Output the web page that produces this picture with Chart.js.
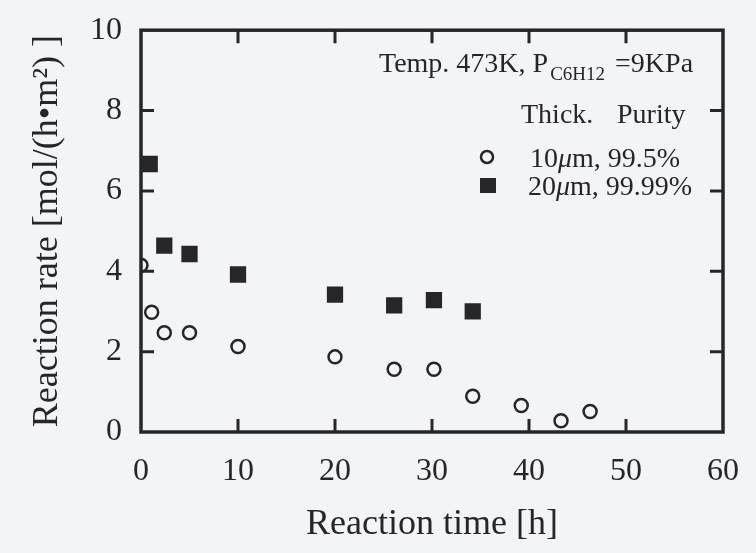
<!DOCTYPE html>
<html lang="en">
<head>
    <meta charset="UTF-8">
    <title>Reaction rate vs reaction time</title>
    <style>
        * { box-sizing: border-box; margin: 0; padding: 0; }
        html, body { width: 756px; height: 553px; background: #f3f4f6; overflow: hidden; }
        #wrap { position: relative; width: 756px; height: 553px; }
    </style>
</head>
<body>
    <div id="wrap">
        <canvas id="chartCanvasId" width="756" height="553"></canvas>
    </div>

    <script src="https://cdn.jsdelivr.net/npm/chart.js@4.4.1/dist/chart.umd.min.js"></script>
    <script>
        "use strict";

        // 10um, 99.5%  (open circles)
        const timeA   = [0, 1.1, 2.4, 5.0, 10.0, 20.0, 26.1, 30.2, 34.2, 39.2, 43.3, 46.3]
        const rateA   = [4.15, 2.98, 2.47, 2.47, 2.13, 1.87, 1.56, 1.56, 0.89, 0.66, 0.28, 0.51]
        // 20um, 99.99% (filled squares)
        const timeB   = [0.9, 2.4, 5.0, 10.0, 20.0, 26.1, 30.2, 34.2]
        const rateB   = [6.67, 4.64, 4.43, 3.92, 3.42, 3.15, 3.28, 3.0]

        const xTicks  = [0, 10, 20, 30, 40, 50, 60]
        const yTicks  = [0, 2, 4, 6, 8, 10]
        const legendLabels = ["10\u03bcm, 99.5%", "20\u03bcm, 99.99%"]

        const ink   = "#26262a"
        const serif = "'Liberation Serif', 'DejaVu Serif', serif"

        function toPoints(xs, ys) {
            return xs.map((x, i) => ({ x: x, y: ys[i] }))
        }

        // draws "20", italic mu, "m, 99.99%" so the mu looks like the printed one
        function drawMuLabel(c, label, x, y) {
            const parts = label.split("\u03bc")
            c.font = "28px " + serif
            c.fillText(parts[0], x, y); x += c.measureText(parts[0]).width
            c.font = "italic 28px " + serif
            c.fillText("\u03bc", x, y); x += c.measureText("\u03bc").width
            c.font = "28px " + serif
            c.fillText(parts[1], x, y)
        }

        // frame and inward ticks like the printed figure
        const framePlugin = {
            id: 'frame',
            beforeDraw(chart) {
                const c = chart.ctx
                c.save()
                c.fillStyle = "#f3f4f6"
                c.fillRect(0, 0, chart.width, chart.height)
                c.restore()
            },
            afterDatasetsDraw(chart) {
                const c = chart.ctx
                const a = chart.chartArea
                const xs = chart.scales.x
                const ys = chart.scales.y
                const tl = 13
                c.save()
                c.strokeStyle = ink
                c.lineWidth = 3.5
                c.strokeRect(a.left, a.top, a.right - a.left, a.bottom - a.top)
                c.lineWidth = 3
                c.beginPath()
                xTicks.slice(1, -1).forEach(v => {
                    const px = xs.getPixelForValue(v)
                    c.moveTo(px, a.bottom); c.lineTo(px, a.bottom - tl)
                    c.moveTo(px, a.top);    c.lineTo(px, a.top + tl)
                })
                yTicks.slice(1, -1).forEach(v => {
                    const py = ys.getPixelForValue(v)
                    c.moveTo(a.left, py);  c.lineTo(a.left + tl, py)
                    c.moveTo(a.right, py); c.lineTo(a.right - tl, py)
                })
                c.stroke()

                // condition text
                c.fillStyle = ink
                c.textBaseline = "alphabetic"
                c.textAlign = "left"
                let x = 379
                const y0 = 72
                c.font = "28px " + serif
                let t = "Temp. 473K, P"
                c.fillText(t, x, y0); x += c.measureText(t).width + 2
                c.font = "19px " + serif
                t = "C6H12"
                c.fillText(t, x, y0 + 8); x += c.measureText(t).width + 10
                c.font = "28px " + serif
                c.fillText("=9KPa", x, y0)

                c.fillText("Thick.", 521, 123)
                c.fillText("Purity", 617, 123)

                // legend rows
                drawMuLabel(c, legendLabels[0], 530, 167)
                drawMuLabel(c, legendLabels[1], 528, 195)
                c.lineWidth = 2.5
                c.beginPath()
                c.arc(487, 157, 6, 0, Math.PI * 2)
                c.stroke()
                c.fillRect(480, 178, 16, 15)
                c.restore()
            }
        }

        const chartCanvas  = document.getElementById('chartCanvasId')
        const chartContext = chartCanvas.getContext('2d')

        const myChart = new Chart(chartContext, {
            type: 'scatter',
            data: {
                datasets: [{
                    label: legendLabels[0],
                    data: toPoints(timeA, rateA),
                    pointStyle: 'circle',
                    pointRadius: 6.5,
                    pointBorderWidth: 2.5,
                    borderColor: ink,
                    backgroundColor: 'rgba(0,0,0,0)'
                }, {
                    label: legendLabels[1],
                    data: toPoints(timeB, rateB),
                    pointStyle: 'rect',
                    pointRadius: 11.5,
                    pointBorderWidth: 0,
                    borderColor: ink,
                    backgroundColor: ink
                }]
            },
            options: {
                responsive: false,
                animation: false,
                layout: { padding: { left: 0, top: 23, right: 33, bottom: 0 } },
                plugins: {
                    legend: { display: false },
                    tooltip: { enabled: false }
                },
                scales: {
                    x: {
                        type: 'linear',
                        min: 0,
                        max: 60,
                        afterFit: s => { s.height = 121 },
                        afterBuildTicks: s => { s.ticks = xTicks.map(v => ({ value: v })) },
                        grid: { display: false },
                        border: { display: false },
                        ticks: {
                            color: ink,
                            padding: 12,
                            font: { family: serif, size: 32 }
                        },
                        title: {
                            display: true,
                            text: 'Reaction time [h]',
                            color: ink,
                            padding: { top: 0, bottom: 7 },
                            font: { family: serif, size: 36 }
                        }
                    },
                    y: {
                        type: 'linear',
                        min: 0,
                        max: 10,
                        afterFit: s => { s.width = 141 },
                        afterBuildTicks: s => { s.ticks = yTicks.map(v => ({ value: v })) },
                        grid: { display: false },
                        border: { display: false },
                        ticks: {
                            color: ink,
                            padding: 11,
                            font: { family: serif, size: 32 }
                        },
                        title: {
                            display: true,
                            text: 'Reaction rate [mol/(h\u2022m\u00b2) ]',
                            color: ink,
                            padding: { top: 26, bottom: 0 },
                            font: { family: serif, size: 36 }
                        }
                    }
                }
            },
            plugins: [framePlugin]
        });
    </script>
</body>
</html>
